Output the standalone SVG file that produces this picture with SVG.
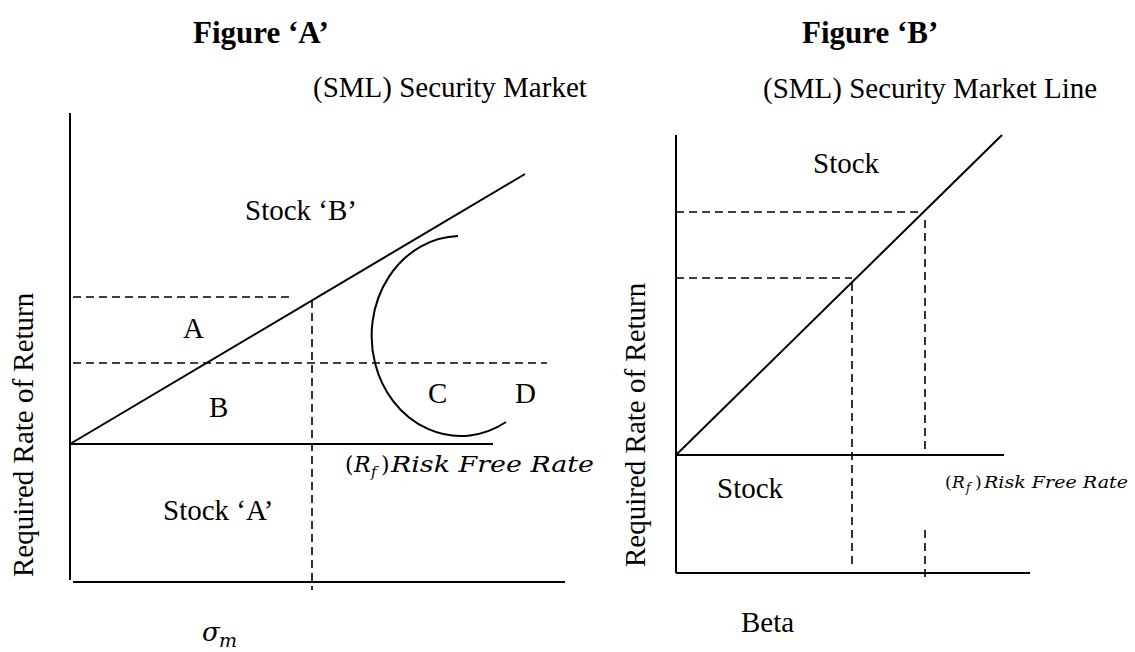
<svg xmlns="http://www.w3.org/2000/svg" width="1135" height="652" viewBox="0 0 1135 652">
<style>
.t{font-family:"Times New Roman","Liberation Serif",Tinos,"Nimbus Roman","DejaVu Serif",serif;font-size:29px;font-weight:normal;font-style:normal;fill:#000}
.ttl{font-family:"Liberation Serif","Times New Roman",serif;font-size:31px;font-weight:bold;fill:#000}
.m{font-family:"DejaVu Serif","Liberation Serif",serif;font-style:italic;fill:#000}
.mu{font-family:"DejaVu Serif","Liberation Serif",serif;fill:#000}
.s{stroke:#000;stroke-width:2;fill:none}
.d{stroke:#000;stroke-width:1.6;stroke-dasharray:8 5;fill:none}
</style>
<rect width="1135" height="652" fill="#fff"/>

<g id="figure-a">
  <text class="ttl" x="193" y="43">Figure ‘A’</text>
  <text class="t" x="313" y="97">(SML) Security Market</text>
  <g id="a-lines">
    <line class="s" x1="70" y1="113" x2="70" y2="580"/>
    <line class="s" x1="73" y1="582" x2="565" y2="582"/>
    <line class="s" x1="70" y1="444" x2="493" y2="444"/>
    <line class="s" x1="70" y1="444" x2="525" y2="174"/>
    <line class="d" x1="73" y1="297" x2="293" y2="297"/>
    <line class="d" x1="312" y1="300" x2="312" y2="590"/>
    <line class="d" x1="73" y1="363" x2="547" y2="363"/>
    <path class="s" d="M458,236 A89,100 0 1,0 506,422"/>
  </g>
  <text class="t" x="245" y="220">Stock ‘B’</text>
  <text class="t" x="183" y="338">A</text>
  <text class="t" x="209" y="417">B</text>
  <text class="t" x="428" y="403">C</text>
  <text class="t" x="515" y="403">D</text>
  <text class="t" x="163" y="520">Stock ‘A’</text>
  <text class="t" transform="translate(33,577) rotate(-90)">Required Rate of Return</text>
  <g id="a-rf">
    <text class="mu" x="345" y="472" font-size="22">(</text>
    <text class="m" x="354" y="472" font-size="22">R</text>
    <text class="m" x="371" y="477" font-size="15">f</text>
    <text class="mu" x="381" y="472" font-size="22">)</text>
    <text class="m" x="391" y="472" font-size="22" textLength="203" lengthAdjust="spacingAndGlyphs">Risk Free Rate</text>
  </g>
  <g id="a-sigma">
    <text class="m" x="202" y="641" font-size="26">σ</text>
    <text class="m" x="219" y="647" font-size="19">m</text>
  </g>
</g>

<g id="figure-b">
  <text class="ttl" x="802" y="43">Figure ‘B’</text>
  <text class="t" x="763" y="98">(SML) Security Market Line</text>
  <g id="b-lines">
    <line class="s" x1="676" y1="135" x2="676" y2="573"/>
    <line class="s" x1="676" y1="573" x2="1030" y2="573"/>
    <line class="s" x1="676" y1="455" x2="1004" y2="455"/>
    <line class="s" x1="676" y1="455" x2="1002" y2="135"/>
    <line class="d" x1="676" y1="212" x2="923" y2="212"/>
    <line class="d" x1="676" y1="278" x2="852" y2="278"/>
    <line class="d" x1="852" y1="283" x2="852" y2="569"/>
    <line class="d" x1="925" y1="220" x2="925" y2="452"/>
    <line class="d" x1="925" y1="530" x2="925" y2="577"/>
  </g>
  <text class="t" x="813" y="173">Stock</text>
  <text class="t" x="717" y="498">Stock</text>
  <text class="t" x="741" y="632">Beta</text>
  <text class="t" transform="translate(645,567) rotate(-90)">Required Rate of Return</text>
  <g id="b-rf">
    <text class="mu" x="945" y="488" font-size="17">(</text>
    <text class="m" x="952" y="488" font-size="17">R</text>
    <text class="m" x="966" y="492" font-size="12">f</text>
    <text class="mu" x="975" y="488" font-size="17">)</text>
    <text class="m" x="984" y="488" font-size="17" textLength="144" lengthAdjust="spacingAndGlyphs">Risk Free Rate</text>
  </g>
</g>
</svg>
